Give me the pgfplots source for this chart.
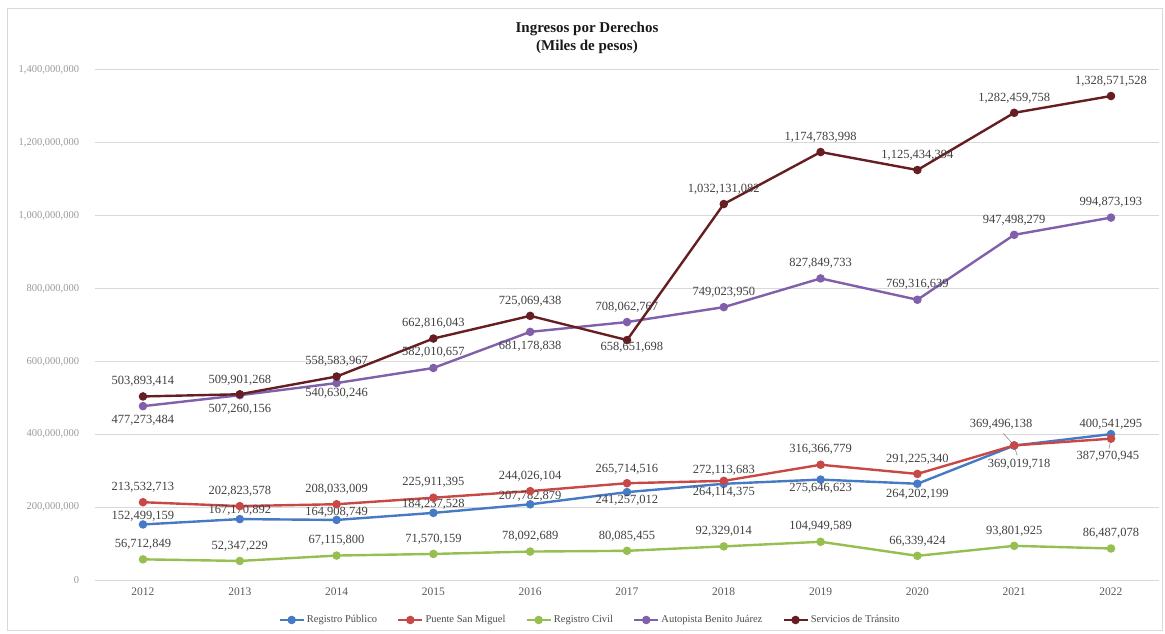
\documentclass[border=0pt]{standalone}
\usepackage{fontspec}
\setmainfont{Liberation Serif}
\usepackage{pgfplots}
\usepackage{pgfplotstable}
\pgfplotsset{compat=1.18}

\definecolor{cPub}{RGB}{70,122,196}
\definecolor{cPue}{RGB}{200,72,70}
\definecolor{cCiv}{RGB}{150,190,80}
\definecolor{cAut}{RGB}{128,96,170}
\definecolor{cTra}{RGB}{102,30,34}
\definecolor{lbl}{RGB}{64,64,64}
\definecolor{grd}{RGB}{217,217,217}

% x y label dx dy  (offsets of the label centre, pt)
\pgfplotstableread{
x y lab dx dy
2012 152499159 152,499,159 0 8
2013 167170892 167,170,892 0 9
2014 164908749 164,908,749 0 8
2015 184237528 184,237,528 0 9
2016 207782879 207,782,879 0 8
2017 241257012 241,257,012 0 -8
2018 264114375 264,114,375 0 -9
2019 275646623 275,646,623 0 -9
2020 264202199 264,202,199 0 -11
2021 369019718 369,019,718 5 -19
2022 400541295 400,541,295 0 10
}\publico
\pgfplotstableread{
x y lab dx dy
2012 213532713 213,532,713 0 15
2013 202823578 202,823,578 0 15
2014 208033009 208,033,009 0 15
2015 225911395 225,911,395 0 15
2016 244026104 244,026,104 0 15
2017 265714516 265,714,516 0 14
2018 272113683 272,113,683 0 11
2019 316366779 316,366,779 0 15
2020 291225340 291,225,340 0 15
2021 369496138 369,496,138 -13 21
2022 387970945 387,970,945 -3 -18
}\puente
\pgfplotstableread{
x y lab dx dy
2012 56712849 56,712,849 0 15
2013 52347229 52,347,229 0 15
2014 67115800 67,115,800 0 15
2015 71570159 71,570,159 0 15
2016 78092689 78,092,689 0 15
2017 80085455 80,085,455 0 15
2018 92329014 92,329,014 0 15
2019 104949589 104,949,589 0 15
2020 66339424 66,339,424 0 15
2021 93801925 93,801,925 0 15
2022 86487078 86,487,078 0 15
}\civil
\pgfplotstableread{
x y lab dx dy
2012 477273484 477,273,484 0 -14
2013 507260156 507,260,156 0 -14
2014 540630246 540,630,246 0 -10
2015 582010657 582,010,657 0 16
2016 681178838 681,178,838 0 -14
2017 708062767 708,062,767 0 15
2018 749023950 749,023,950 0 15
2019 827849733 827,849,733 0 15
2020 769316639 769,316,639 0 15
2021 947498279 947,498,279 0 15
2022 994873193 994,873,193 0 15
}\autopista
\pgfplotstableread{
x y lab dx dy
2012 503893414 503,893,414 0 15
2013 509901268 509,901,268 0 14
2014 558583967 558,583,967 0 15
2015 662816043 662,816,043 0 15
2016 725069438 725,069,438 0 15
2017 658651698 658,651,698 5 -7
2018 1032131082 1,032,131,082 0 15
2019 1174783998 1,174,783,998 0 15
2020 1125434394 1,125,434,394 0 15
2021 1282459758 1,282,459,758 0 15
2022 1328571528 1,328,571,528 0 15
}\transito

\pgfplotsset{
  serie/.style={#1, line width=2.4pt, mark=*, mark size=3pt,
    mark options={solid, fill=#1}},
  lbls/.style={
    nodes near coords,
    point meta=explicit symbolic,
    visualization depends on={\thisrow{dx}\as\lbldx},
    visualization depends on={\thisrow{dy}\as\lbldy},
    every node near coord/.append style={anchor=center, inner sep=0pt,
      xshift=\lbldx pt, yshift=\lbldy pt, text=lbl,
      font=\fontsize{12.5}{12.5}\selectfont},
  },
}

\begin{document}
\begin{tikzpicture}
\draw[grd, line width=0.8pt] (-87.6pt,-50pt) rectangle (1067.4pt,572pt);
\begin{axis}[
    scale only axis,
    width=1064.8pt,
    height=510pt,
    xmin=2011.5, xmax=2022.5,
    ymin=0, ymax=1400000000,
    clip=false,
    xtick={2012,...,2022},
    xticklabels={2012,2013,2014,2015,2016,2017,2018,2019,2020,2021,2022},
    ytick={0,200000000,400000000,600000000,800000000,1000000000,1200000000,1400000000},
    yticklabels={0,{200,000,000},{400,000,000},{600,000,000},{800,000,000},{1,000,000,000},{1,200,000,000},{1,400,000,000}},
    scaled y ticks=false,
    ymajorgrids,
    grid style={grd, line width=1pt},
    axis line style={draw=none},
    tick style={draw=none},
    yticklabel style={font=\fontsize{10.5}{12}\selectfont, text=black!40, xshift=-12pt},
    xticklabel style={font=\fontsize{11.5}{12}\selectfont, text=black!65, yshift=-4pt},
    legend style={at={(0.4653,-0.0784)}, anchor=center, draw=none, fill=none,
      font=\fontsize{10.5}{12}\selectfont, text=black!70,
      /tikz/every even column/.append style={column sep=18pt}},
    legend columns=-1,
    legend image code/.code={
      \draw[mark repeat=2, mark phase=2] plot coordinates {(0pt,0pt) (12pt,0pt) (24pt,0pt)};},
]
\addplot[serie=cPub, lbls] table[x=x, y=y, meta=lab] {\publico};
\addlegendentry{Registro Público}
\addplot[serie=cPue, lbls] table[x=x, y=y, meta=lab] {\puente};
\addlegendentry{Puente San Miguel}
\addplot[serie=cCiv, lbls] table[x=x, y=y, meta=lab] {\civil};
\addlegendentry{Registro Civil}
\addplot[serie=cAut, lbls] table[x=x, y=y, meta=lab] {\autopista};
\addlegendentry{Autopista Benito Juárez}
\addplot[serie=cTra, lbls] table[x=x, y=y, meta=lab] {\transito};
\addlegendentry{Servicios de Tránsito}
% leader lines of the crowded 2021/2022 labels
\draw[black!45, line width=0.6pt] (axis cs:2021,369496138) -- ++(-11pt,12pt);
\draw[black!45, line width=0.6pt] (axis cs:2021,369019718) -- ++(3pt,-10pt);
\draw[black!45, line width=0.6pt] (axis cs:2022,387970945) -- ++(-2pt,-10pt);
\end{axis}
\node[align=center, font=\bfseries\fontsize{15}{18}\selectfont, text=black!90]
  at (492.4pt,542pt) {Ingresos por Derechos\\(Miles de pesos)};
\pgfresetboundingbox
\useasboundingbox (-94.6pt,-53pt) rectangle (1070.4pt,580pt);
\end{tikzpicture}
\end{document}
